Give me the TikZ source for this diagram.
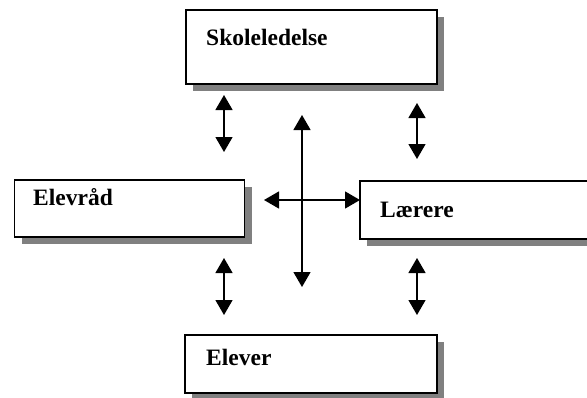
\documentclass[tikz,border=0pt]{standalone}
\usepackage{fontspec}
\setmainfont{Liberation Serif}
\usetikzlibrary{arrows.meta,shadows}
\begin{document}
\begin{tikzpicture}[x=1pt,y=-1pt,
  box/.style={draw=black,line width=1.4pt,fill=white,inner sep=0pt,
    drop shadow={shadow xshift=7pt,shadow yshift=-7pt,fill=black!50,opacity=1}},
  lbl/.style={anchor=base west,inner sep=0pt,font=\fontsize{23.5}{26}\selectfont\bfseries},
  dbl/.style={{Triangle[width=17pt,length=15pt]}-{Triangle[width=17pt,length=15pt]},line width=1.4pt}]
\useasboundingbox (0,0) rectangle (587,397);
\node[box,minimum width=251pt,minimum height=74pt] (skole) at (311.5,47) {};
\node[box,minimum width=230pt,minimum height=57pt] (elevraad) at (129.5,208.5) {};
\node[box,minimum width=260pt,minimum height=58pt] (laerere) at (490,210) {};
\node[box,minimum width=252pt,minimum height=58pt] (elever) at (311,364) {};
\node[lbl] (tskole) at (206,45) {Skoleledelse};
\node[lbl] (televraad) at (33,205) {Elevråd};
\node[lbl] (tlaerere) at (380,217) {Lærere};
\node[lbl] (telever) at (206,365) {Elever};
\coordinate (a1s) at (224,95);  \coordinate (a1e) at (224,152);
\coordinate (a2s) at (417,103); \coordinate (a2e) at (417,159);
\coordinate (a3s) at (302,115); \coordinate (a3e) at (302,287);
\coordinate (a4s) at (264,200); \coordinate (a4e) at (360,200);
\coordinate (a5s) at (224,258); \coordinate (a5e) at (224,315);
\coordinate (a6s) at (417,258); \coordinate (a6e) at (417,315);
\draw[dbl] (a1s) -- (a1e);
\draw[dbl] (a2s) -- (a2e);
\draw[dbl] (a3s) -- (a3e);
\draw[dbl] (a4s) -- (a4e);
\draw[dbl] (a5s) -- (a5e);
\draw[dbl] (a6s) -- (a6e);
\end{tikzpicture}
\end{document}
